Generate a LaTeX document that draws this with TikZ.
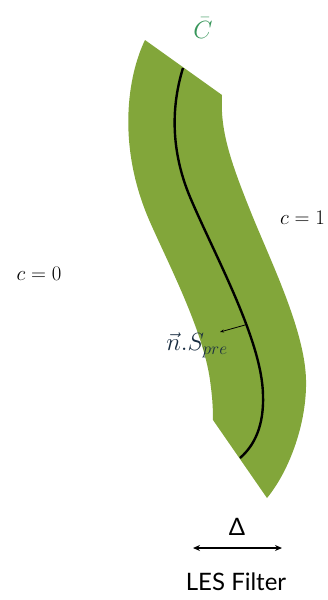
\documentclass[tikz,border=0pt]{standalone}
\usepackage{fontspec}
\newfontfamily\filterfont{Lato}
\usetikzlibrary{arrows.meta}

\definecolor{flamegreen}{RGB}{130,166,58}
\definecolor{barcgreen}{RGB}{55,150,90}
\definecolor{normalblue}{RGB}{25,45,65}

\begin{document}
\begin{tikzpicture}[
    x=1pt,
    y=-1pt,
    >=Stealth,
    font=\fontsize{21}{25}\selectfont,
    centreline/.style={draw=black, line width=2.4pt},
    mathlabel/.style={inner sep=0pt, text=black},
    filterlabel/.style={inner sep=0pt, font=\filterfont\fontsize{24}{28}\selectfont}
]
\useasboundingbox (0,0) rectangle (328,600);

% --- Band of the filtered front ---
\fill[flamegreen] (145,40) -- (222,95)
    .. controls (220,130) and (230,160) .. (250,210)
    .. controls (270,260) and (305,330) .. (306,380)
    .. controls (307,422) and (290,470) .. (267,498)
    -- (213,420)
    .. controls (213,405) and (212,395) .. (210,380)
    .. controls (203,330) and (168,263) .. (150,222)
    .. controls (116,145) and (128,75) .. (145,40)
    -- cycle;

% --- Iso-line ---
\draw[centreline] (183,68)
    .. controls (170,110) and (172,154) .. (190,197)
    .. controls (215,256) and (262,340) .. (263,395)
    .. controls (264,425) and (255,445) .. (240,458);

% --- Labels ---
\node[mathlabel, text=barcgreen, font=\fontsize{25}{30}\selectfont] (cbar) at (203,28) {$\bar{C}$};
\node[mathlabel] (czero) at (39,274) {$c=0$};
\node[mathlabel, anchor=west] (cone) at (280,218) {$c=1$};

% --- Normal ---
\coordinate (nbase) at (245,325);
\coordinate (ntip) at (220,332);
\draw[->, line width=0.8pt, >={Stealth[length=4pt]}] (nbase) -- (ntip);
\node[mathlabel, text=normalblue, font=\fontsize{24}{28}\selectfont] (nlabel) at (197,345) {$\vec{n}.S_{pre}$};

% --- Filter width ---
\coordinate (deltaleft) at (193,548);
\coordinate (deltaright) at (282,548);
\draw[<->, line width=1.2pt, >={Stealth[length=7pt, width=6pt]}] (deltaleft) -- (deltaright);
\node[filterlabel] (delta) at (237,527) {Δ};
\node[filterlabel] (filter) at (236,582) {LES Filter};

\end{tikzpicture}
\end{document}
